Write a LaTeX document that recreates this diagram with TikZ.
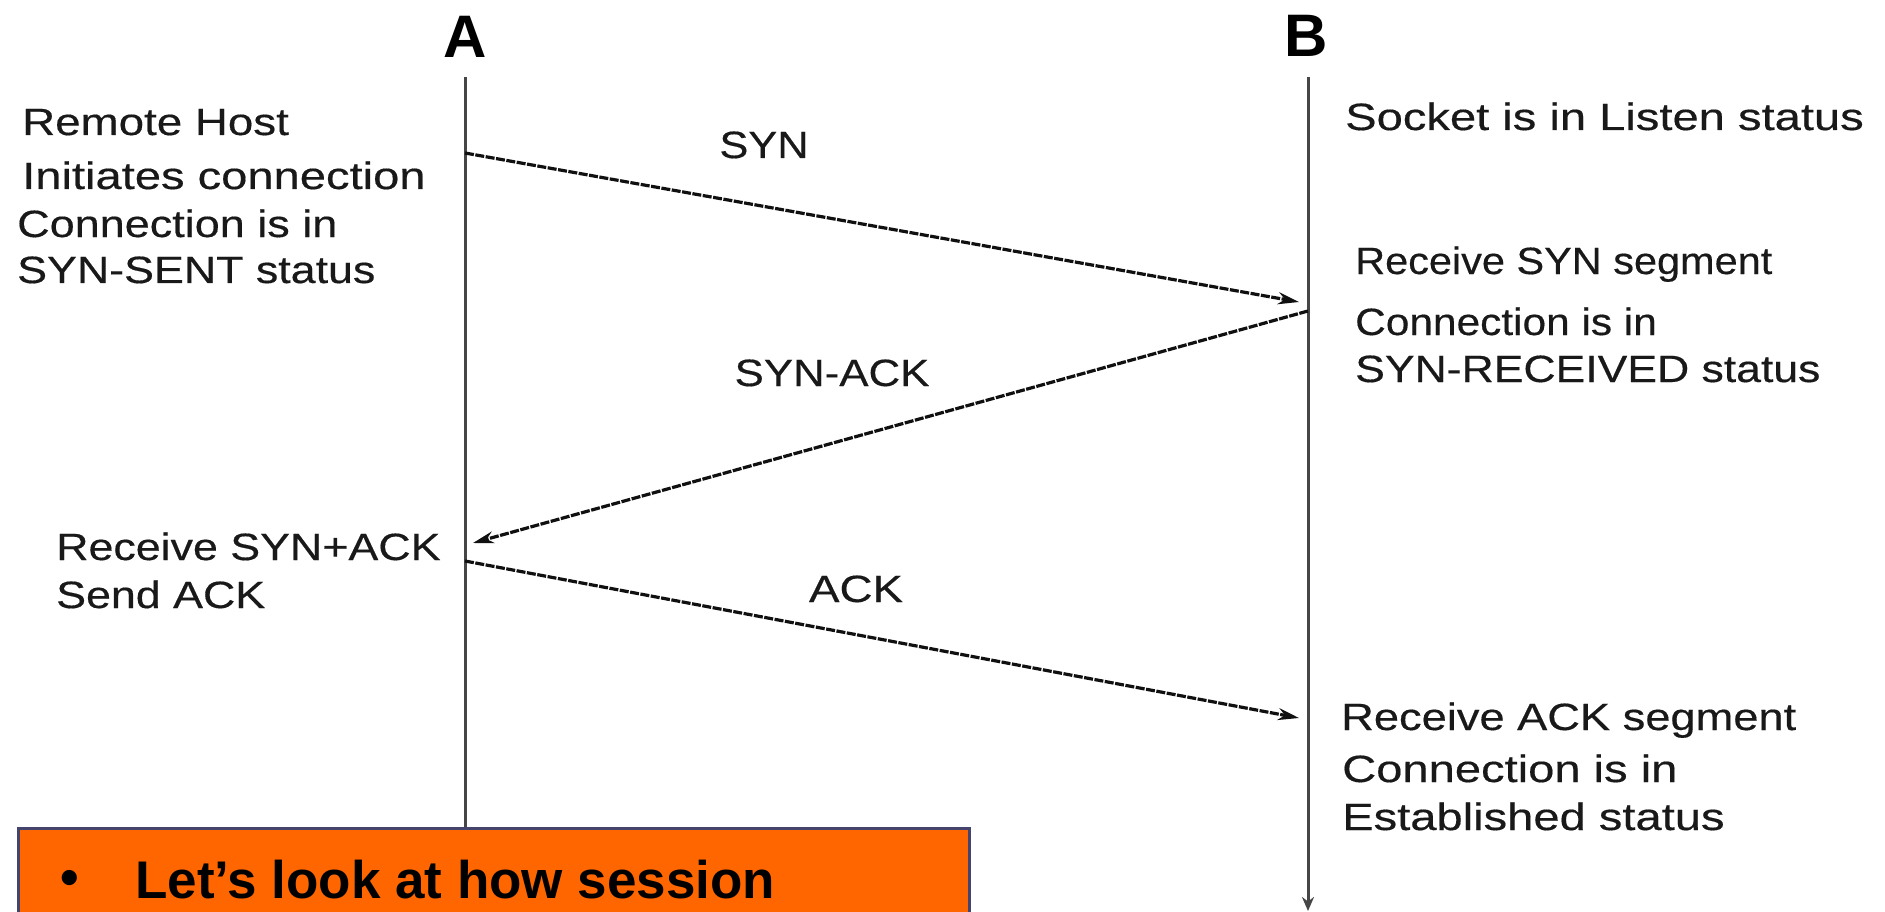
\documentclass[tikz,border=0pt]{standalone}
\usepackage{graphicx}
\usepackage{fontspec}
\setmainfont{Liberation Sans}
\newfontfamily\diagfont[FakeStretch=1.24,FakeBold=0.4]{Liberation Sans}
\usetikzlibrary{arrows.meta}
\newcommand{\hsq}[2]{\scalebox{#1}[1]{#2}}
\definecolor{lifeline}{HTML}{464646}
\definecolor{msgline}{HTML}{101010}
\definecolor{boxorange}{HTML}{FF6600}
\definecolor{boxedge}{HTML}{44446C}
\begin{document}
\begin{tikzpicture}[x=1pt,y=-1pt,
  lbl/.style={font=\diagfont\fontsize{38}{44}\selectfont, text=black!90, inner sep=0pt, anchor=base west},
  msglbl/.style={font=\diagfont\fontsize{38}{44}\selectfont, text=black!90, inner sep=0pt, anchor=base},
  head/.style={font=\bfseries\fontsize{60}{70}\selectfont, inner sep=0pt, anchor=base},
  life/.style={draw=lifeline, line width=3pt},
  msg/.style={draw=msgline, line width=3.2pt, dash pattern=on 9pt off 1.5pt,
              -{Stealth[length=21pt,width=12pt]}},
  note/.style={draw=boxedge, line width=2.6pt, fill=boxorange, anchor=north west,
               minimum width=951pt, minimum height=120pt, inner sep=0pt},
  notetext/.style={font=\bfseries\fontsize{53}{60}\selectfont, inner sep=0pt, anchor=base west}]
\useasboundingbox (0,0) rectangle (1885,912);
\fill[white] (0,0) rectangle (1885,912);

% headers
\node[head] (hA) at (465,58) {A};
\node[head] (hB) at (1306,57) {B};

% lifelines
\coordinate (Atop) at (465,77);
\coordinate (Abot) at (465,840);
\coordinate (Btop) at (1308,77);
\coordinate (Bbot) at (1308,911);
\draw[life] (Atop) -- (Abot);
\draw[life, -{Stealth[length=14pt,width=12pt]}] (Btop) -- (Bbot);

% messages
\coordinate (syn1) at (465,153);
\coordinate (syn2) at (1299,302);
\coordinate (sa1) at (1308,311);
\coordinate (sa2) at (473,543);
\coordinate (ack1) at (465,561);
\coordinate (ack2) at (1299,718);
\draw[msg] (syn1) -- (syn2);
\draw[msg] (sa1) -- (sa2);
\draw[msg] (ack1) -- (ack2);

\node[msglbl] (lsyn) at (764,158) {\hsq{0.92}{SYN}};
\node[msglbl] (lsa) at (832,386) {\hsq{0.93}{SYN-ACK}};
\node[msglbl] (lack) at (856,602) {\hsq{0.97}{ACK}};

% A side texts
\node[lbl] (a1) at (22,135) {\hsq{0.97}{Remote Host}};
\node[lbl] (a2) at (22,189) {Initiates connection};
\node[lbl] (a3) at (17,237) {\hsq{0.955}{Connection is in}};
\node[lbl] (a4) at (17,283) {\hsq{0.95}{SYN-SENT status}};
\node[lbl] (a5) at (56,560) {\hsq{0.95}{Receive SYN+ACK}};
\node[lbl] (a6) at (56,608) {\hsq{0.95}{Send ACK}};

% B side texts
\node[lbl] (b1) at (1345,130) {Socket is in Listen status};
\node[lbl] (b2) at (1355,274) {\hsq{0.88}{Receive SYN segment}};
\node[lbl] (b3) at (1355,335) {\hsq{0.9}{Connection is in}};
\node[lbl] (b4) at (1355,382) {\hsq{0.945}{SYN-RECEIVED status}};
\node[lbl] (b5) at (1341,730) {\hsq{0.96}{Receive ACK segment}};
\node[lbl] (b6) at (1342,782) {Connection is in};
\node[lbl] (b7) at (1342,830) {Established status};

% orange note
\node[note] (box) at (17,827) {};
\node[notetext, anchor=center] (bul) at (70,883) {•};
\node[notetext] (t1) at (135,898) {Let’s look at how session};
\end{tikzpicture}
\end{document}
